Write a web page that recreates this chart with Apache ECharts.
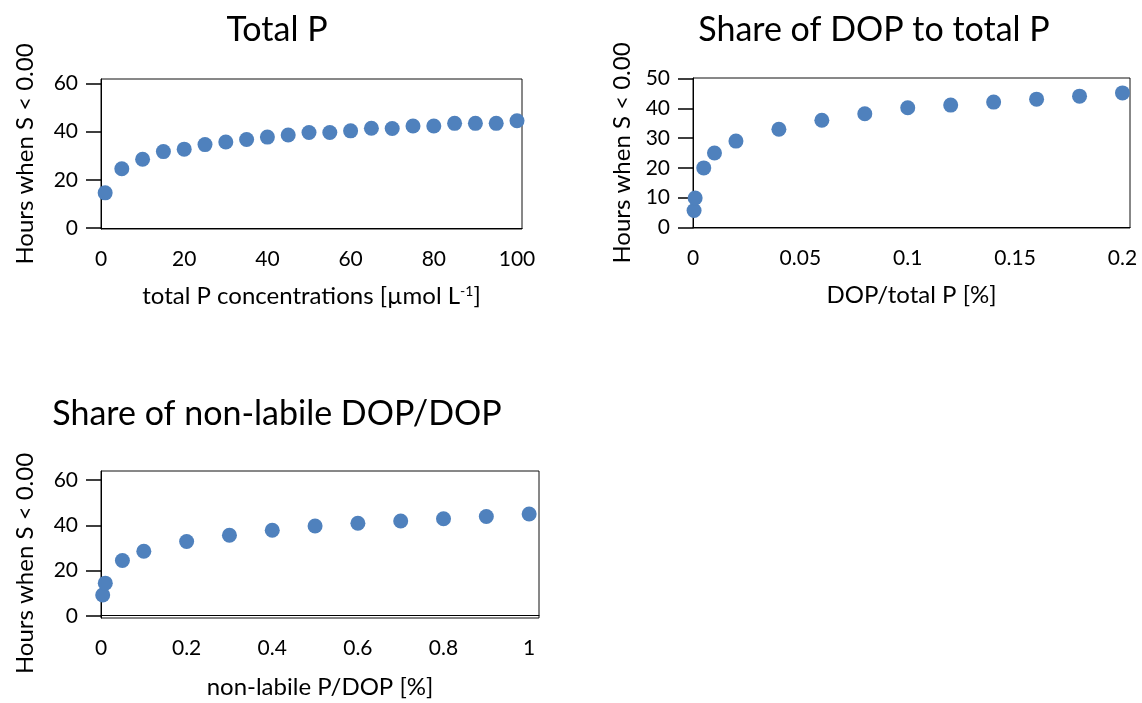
<!DOCTYPE html>
<html>
<head>
<meta charset="utf-8">
<script src="https://cdn.jsdelivr.net/npm/echarts@6/dist/echarts.min.js"></script>
<style>
html, body { margin: 0; background: #fff; }
#main { width: 1142px; height: 703px; }
</style>
</head>
<body>
<div id="main"></div>
<script>
// panel 1: total P
var totalPConc = [1, 5, 10, 15, 20, 25, 30, 35, 40, 45, 50, 55, 60, 65, 70, 75, 80, 85, 90, 95, 100];
var totalPHours = [14.6, 24.6, 28.5, 31.7, 32.7, 34.6, 35.7, 36.7, 37.7, 38.6, 39.6, 39.6, 40.3, 41.4, 41.3, 42.3, 42.3, 43.4, 43.4, 43.4, 44.5];
var totalPTicksX = [0, 20, 40, 60, 80, 100];
var totalPTicksY = [0, 20, 40, 60];

// panel 2: DOP / total P
var dopShare = [0.0005, 0.001, 0.005, 0.01, 0.02, 0.04, 0.06, 0.08, 0.1, 0.12, 0.14, 0.16, 0.18, 0.2];
var dopHours = [5.7, 9.9, 20, 25, 29, 33, 36, 38.2, 40.2, 41.1, 42.1, 43.1, 44.1, 45.2];
var dopTicksX = [0, 0.05, 0.1, 0.15, 0.2];
var dopTicksY = [0, 10, 20, 30, 40, 50];

// panel 3: non-labile DOP / DOP
var nonLabShare = [0.004, 0.01, 0.05, 0.1, 0.2, 0.3, 0.4, 0.5, 0.6, 0.7, 0.8, 0.9, 1];
var nonLabHours = [9.2, 14.4, 24.4, 28.5, 32.8, 35.6, 37.8, 39.7, 40.9, 41.9, 42.9, 43.9, 45];
var nonLabTicksX = [0, 0.2, 0.4, 0.6, 0.8, 1];
var nonLabTicksY = [0, 20, 40, 60];

var FONT = 'Lato';
var yName = 'Hours when S < 0.00';

function fmt(v) {
    return String(parseFloat(v.toFixed(4)));
}

function pairs(xs, ys) {
    return xs.map(function (x, i) { return [x, ys[i]]; });
}

function xAxisFor(idx, min, max, ticks, name, gap, rich) {
    return {
        type: 'value', gridIndex: idx, min: min, max: max,
        splitLine: {show: false},
        axisLine: {show: true, lineStyle: {color: '#000', width: 1}},
        axisTick: {show: false},
        axisLabel: {customValues: ticks, formatter: fmt, margin: 20,
            color: '#000', fontFamily: FONT, fontSize: 21},
        name: name, nameLocation: 'middle', nameGap: gap,
        nameTextStyle: {color: '#000', fontFamily: FONT, fontSize: 24, rich: rich}
    };
}

function yAxisFor(idx, min, max, ticks, gap, pad) {
    return {
        type: 'value', gridIndex: idx, min: min, max: max,
        splitLine: {show: false},
        axisLine: {show: true, lineStyle: {color: '#000', width: 1}},
        axisTick: {show: true, customValues: ticks, length: 15, lineStyle: {color: '#000', width: 1.5}},
        axisLabel: {customValues: ticks, formatter: fmt, margin: 23,
            color: '#000', fontFamily: FONT, fontSize: 21},
        name: yName, nameLocation: 'middle', nameGap: gap, nameRotate: 90,
        nameTextStyle: {color: '#000', fontFamily: FONT, fontSize: 24, padding: pad}
    };
}

var supRich = {
    sup: {fontSize: 14, verticalAlign: 'top', fontFamily: FONT, color: '#000', padding: [0, 0, 10, 0]}
};

var gridBase = {show: true, borderColor: '#111', borderWidth: 1, outerBoundsMode: 'none', containLabel: false};
var titleStyle = {fontFamily: FONT, fontSize: 34, fontWeight: 'normal', color: '#000'};

var option = {
    backgroundColor: '#fff',
    animation: false,
    title: [
        {text: 'Total P', left: 272, top: 8, textAlign: 'center', textStyle: titleStyle},
        {text: 'Share of DOP to total P', left: 869, top: 8, textAlign: 'center', textStyle: titleStyle},
        {text: 'Share of non-labile DOP/DOP', left: 272, top: 392, textAlign: 'center', textStyle: titleStyle}
    ],
    grid: [
        Object.assign({left: 101, top: 79, width: 421, height: 150}, gridBase),
        Object.assign({left: 693, top: 78, width: 437, height: 150}, gridBase),
        Object.assign({left: 101, top: 471, width: 438, height: 147}, gridBase)
    ],
    xAxis: [
        xAxisFor(0, 0, 101.2, totalPTicksX, 'total P concentrations [µmol L{sup|-1}]', 55, supRich),
        xAxisFor(1, 0, 0.2035, dopTicksX, 'DOP/total P [%]', 55),
        xAxisFor(2, 0, 1.023, nonLabTicksX, 'non-labile P/DOP [%]', 57)
    ],
    yAxis: [
        yAxisFor(0, -0.4, 61.8, totalPTicksY, 64, [0, 0, 0, 0]),
        yAxisFor(1, -0.2, 50.2, dopTicksY, 59, [0, 0, 0, 0]),
        yAxisFor(2, -1, 64, nonLabTicksY, 64, [0, 38, 0, 0])
    ],
    series: [
        {type: 'scatter', xAxisIndex: 0, yAxisIndex: 0, symbolSize: 15,
            itemStyle: {color: '#4F81BD', opacity: 1}, data: pairs(totalPConc, totalPHours)},
        {type: 'scatter', xAxisIndex: 1, yAxisIndex: 1, symbolSize: 15,
            itemStyle: {color: '#4F81BD', opacity: 1}, data: pairs(dopShare, dopHours)},
        {type: 'scatter', xAxisIndex: 2, yAxisIndex: 2, symbolSize: 15,
            itemStyle: {color: '#4F81BD', opacity: 1}, data: pairs(nonLabShare, nonLabHours)}
    ]
};

var myChart = echarts.init(document.getElementById('main'), null, {renderer: 'canvas'});
myChart.setOption(option);
</script>
</body>
</html>
